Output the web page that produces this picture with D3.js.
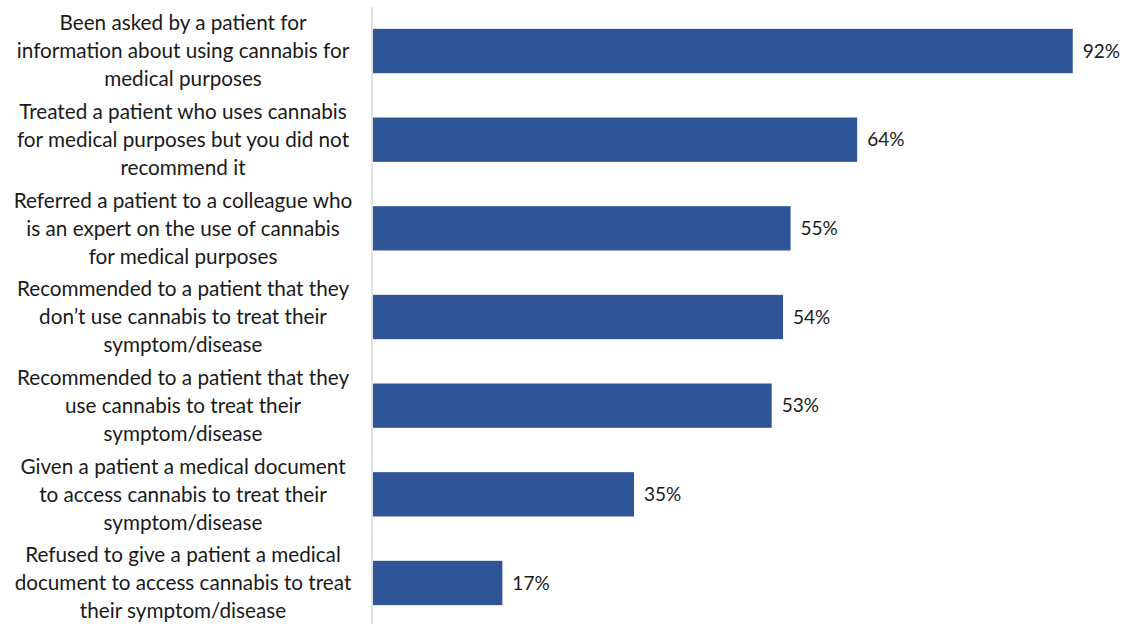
<!DOCTYPE html>
<html><head><meta charset="utf-8">
<script src="https://cdn.jsdelivr.net/npm/d3@7"></script>
<style>body{margin:0;background:#fff;} svg{display:block;}</style>
</head><body>
<svg id="c" width="1124" height="624"></svg>
<script>
const categories = [
  ["Been asked by a patient for", "information about using cannabis for", "medical purposes"],
  ["Treated a patient who uses cannabis", "for medical purposes but you did not", "recommend it"],
  ["Referred a patient to a colleague who", "is an expert on the use of cannabis", "for medical purposes"],
  ["Recommended  to a patient that they", "don\u2019t use cannabis to treat their", "symptom/disease"],
  ["Recommended to a patient that they", "use cannabis to treat their", "symptom/disease"],
  ["Given a patient a medical document", "to access cannabis to treat their", "symptom/disease"],
  ["Refused to give a patient a medical", "document to access cannabis to treat", "their symptom/disease"]
];
const values = [92.5, 64.0, 55.2, 54.2, 52.7, 34.5, 17.1];
const valueLabels = ["92%", "64%", "55%", "54%", "53%", "35%", "17%"];

const svg = d3.select("#c");
const font = "Lato, 'Open Sans', sans-serif";
const idx = d3.range(values.length);
const x = d3.scaleLinear().domain([0, 100]).range([373, 1129.5]);
const y = d3.scaleBand().domain(idx).range([6.7, 627.3]).paddingInner(0.5).paddingOuter(0.25);

svg.selectAll("rect.bar").data(idx).join("rect")
  .attr("class", "bar")
  .attr("x", x(0))
  .attr("y", i => y(i))
  .attr("width", i => x(values[i]) - x(0))
  .attr("height", y.bandwidth())
  .attr("fill", "#2F5597");

// axis line
svg.append("line").attr("x1", 372).attr("x2", 372).attr("y1", 7).attr("y2", 624)
  .attr("stroke", "#D9D9D9").attr("stroke-width", 1.5);

svg.selectAll("text.val").data(idx).join("text")
  .attr("class", "val")
  .attr("x", i => x(values[i]) + 10)
  .attr("y", i => y(i) + y.bandwidth() / 2)
  .attr("dy", "0.35em")
  .attr("font-family", font).attr("font-size", 19).attr("fill", "#1a1a1a")
  .text(i => valueLabels[i]);

const lab = svg.selectAll("text.cat").data(idx).join("text")
  .attr("class", "cat")
  .attr("text-anchor", "middle")
  .attr("font-family", font).attr("font-size", 20.7).attr("fill", "#1a1a1a");
lab.each(function(i) {
  const cy = y(i) + y.bandwidth() / 2;
  const lines = categories[i];
  d3.select(this).selectAll("tspan").data(lines).join("tspan")
    .attr("x", 183)
    .attr("y", (d, k) => cy + (k - (lines.length - 1) / 2) * 28)
    .attr("dy", "0.35em")
    .text(d => d);
});
</script>
</body></html>
